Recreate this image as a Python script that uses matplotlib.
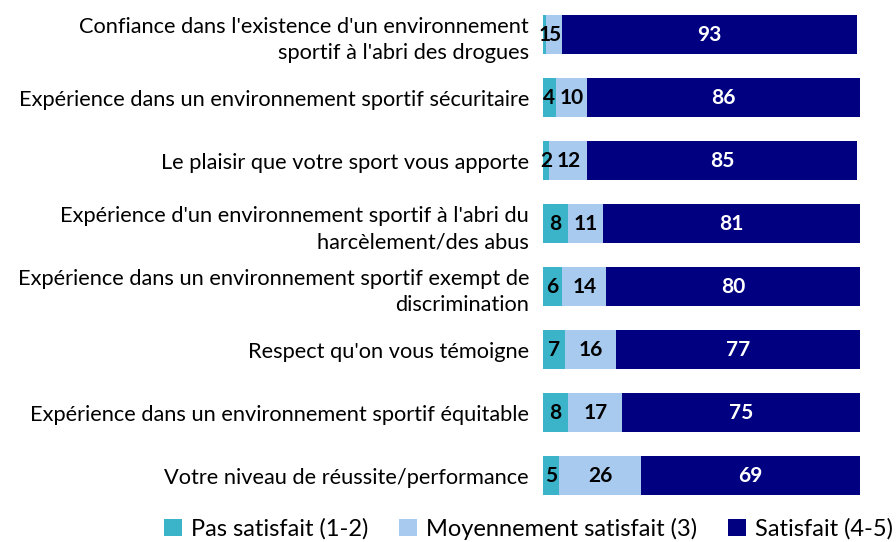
import matplotlib.pyplot as plt

categories = [
    "Confiance dans l'existence d'un environnement\nsportif à l'abri des drogues",
    "Expérience dans un environnement sportif sécuritaire",
    "Le plaisir que votre sport vous apporte",
    "Expérience d'un environnement sportif à l'abri du\nharcèlement/des abus",
    "Expérience dans un environnement sportif exempt de\ndiscrimination",
    "Respect qu'on vous témoigne",
    "Expérience dans un environnement sportif équitable",
    "Votre niveau de réussite/performance",
]
pas_satisfait = [1, 4, 2, 8, 6, 7, 8, 5]
moyen = [5, 10, 12, 11, 14, 16, 17, 26]
satisfait = [93, 86, 85, 81, 80, 77, 75, 69]

series = ["Pas satisfait (1-2)", "Moyennement satisfait (3)", "Satisfait (4-5)"]
colors = ["#3BB4C9", "#A8CAEF", "#000080"]
text_colors = ["black", "black", "white"]

plt.rcParams['font.family'] = ['Lato', 'DejaVu Sans']

fig = plt.figure(figsize=(8.96, 5.42), dpi=100)
ax = fig.add_axes([0.606, 0.064, 0.354, 0.93])

y = list(range(len(categories)))
left = [0] * len(categories)
for vals, col, tc, name in zip([pas_satisfait, moyen, satisfait], colors, text_colors, series):
    ax.barh(y, vals, left=left, height=0.62, color=col, label=name)
    for i, v in enumerate(vals):
        ax.text(left[i] + v / 2, i, str(v), ha='center', va='center',
                color=tc, fontsize=15, fontweight='bold')
    left = [l + v for l, v in zip(left, vals)]

ax.set_xlim(0, 100)
ax.set_ylim(len(categories) - 0.5, -0.5)
ax.set_yticks(y)
ax.set_yticklabels(categories, fontsize=15.7, linespacing=1.4)
ax.tick_params(axis='y', length=0, pad=10)
ax.set_xticks([])
for s in ax.spines.values():
    s.set_visible(False)

fig.legend(loc='lower center', bbox_to_anchor=(0.59, -0.035), ncol=3, frameon=False,
           fontsize=17, handlelength=0.75, handleheight=0.75, handletextpad=0.4,
           columnspacing=1.3)

fig.savefig('out.png', dpi=100)
